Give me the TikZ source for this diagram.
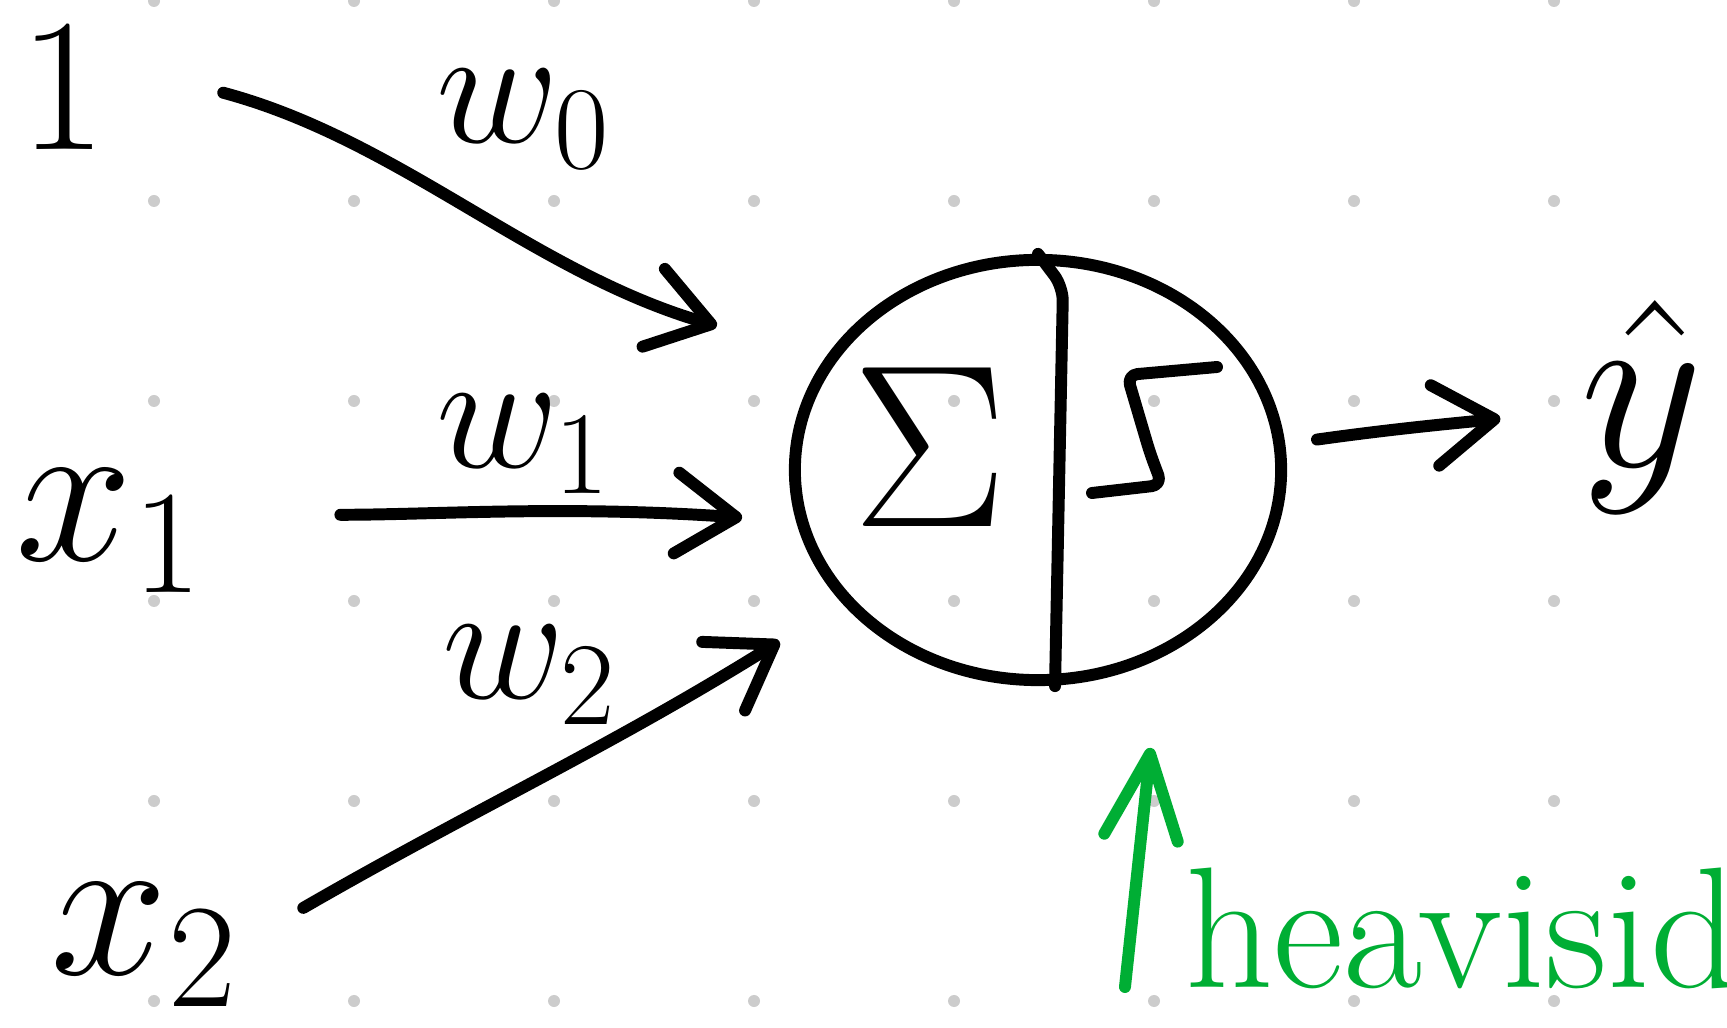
\RequirePackage{fix-cm}
\documentclass[tikz,border=0pt]{standalone}
\usepackage{xcolor}
\usepackage{tikz}
\usetikzlibrary{arrows.meta,shapes.geometric}

\definecolor{inkgreen}{RGB}{0,174,52}

\begin{document}
\begin{tikzpicture}[
  x=0.01cm, y=0.01cm,
  ink/.style={line width=3.4pt, line cap=round, line join=round},
  arr/.style={ink, -{Straight Barb[length=17pt,width=23pt,round]}},
  notearr/.style={ink, color=inkgreen, -{Straight Barb[length=24pt,width=21pt,round]}},
  sym/.style={font=\fontsize{60}{72}\selectfont, inner sep=0pt},
  wlabel/.style={font=\fontsize{48}{58}\selectfont, inner sep=0pt},
  griddot/.style={fill=gray!40},
]
\clip (0,0) rectangle (1727,1027);

% dot grid
\foreach \gx in {0,...,7}
  \foreach \gy in {0,...,5}
    \fill[griddot] (154+200*\gx, 26+200*\gy) circle[radius=0.06cm];

% inputs
\node[font=\fontsize{54}{64}\selectfont, inner sep=0pt, anchor=base] (one) at (63,877) {1};
\node[sym, anchor=base west] (xone) at (15,466) {$x_1$};
\node[sym, anchor=base west] (xtwo) at (50,52) {$x_2$};

% neuron: sum | step
\node[ellipse, draw, ink, minimum width=4.86cm, minimum height=4.2cm, inner sep=0pt] (neuron) at (1038,557) {};
\draw[ink, rounded corners=4pt] (neuron.north) -- ++(25,-33) -- ([xshift=0.17cm]neuron.south);
\node[font=\fontsize{66}{78}\selectfont, inner sep=0pt] (sum) at (930,580) {$\Sigma$};
\draw[ink, rounded corners=3pt] (1217,660) -- (1127,652) -- (1150,574) -- (1162,542) -- (1092,534);

% weights
\node[wlabel, anchor=base west] (wzero) at (436,884) {$w_0$};
\node[wlabel, anchor=base west] (wone) at (436,559) {$w_1$};
\node[wlabel, anchor=base west] (wtwo) at (442,328) {$w_2$};

% output
\node[font=\fontsize{68}{80}\selectfont, inner sep=0pt, anchor=base west] (yhat) at (1580,560) {$\hat{y}$};

% arrows
\draw[arr, shorten <=1.2cm, shorten >=1.13cm] (one.30) to[out=-15, in=164] (neuron.152);
\draw[arr, shorten <=1.37cm, shorten >=0.54cm] (xone.10) to[out=0, in=176] (neuron.192);
\draw[arr, shorten <=0.75cm, shorten >=0.73cm] (xtwo.east) to[out=30, in=212] (neuron.214);
\draw[arr, shorten <=0.32cm, shorten >=0.8cm] (neuron.6) to[out=8, in=186] ([yshift=-0.03cm]yhat.west);

% note
\node[font=\fontsize{49}{58}\selectfont, text=inkgreen, inner sep=0pt, anchor=base west] (heav) at (1185,40) {heaviside};
\draw[notearr, shorten >=0.9cm] ([xshift=-0.6cm]heav.base west) -- (neuron.-57);

\end{tikzpicture}
\end{document}
